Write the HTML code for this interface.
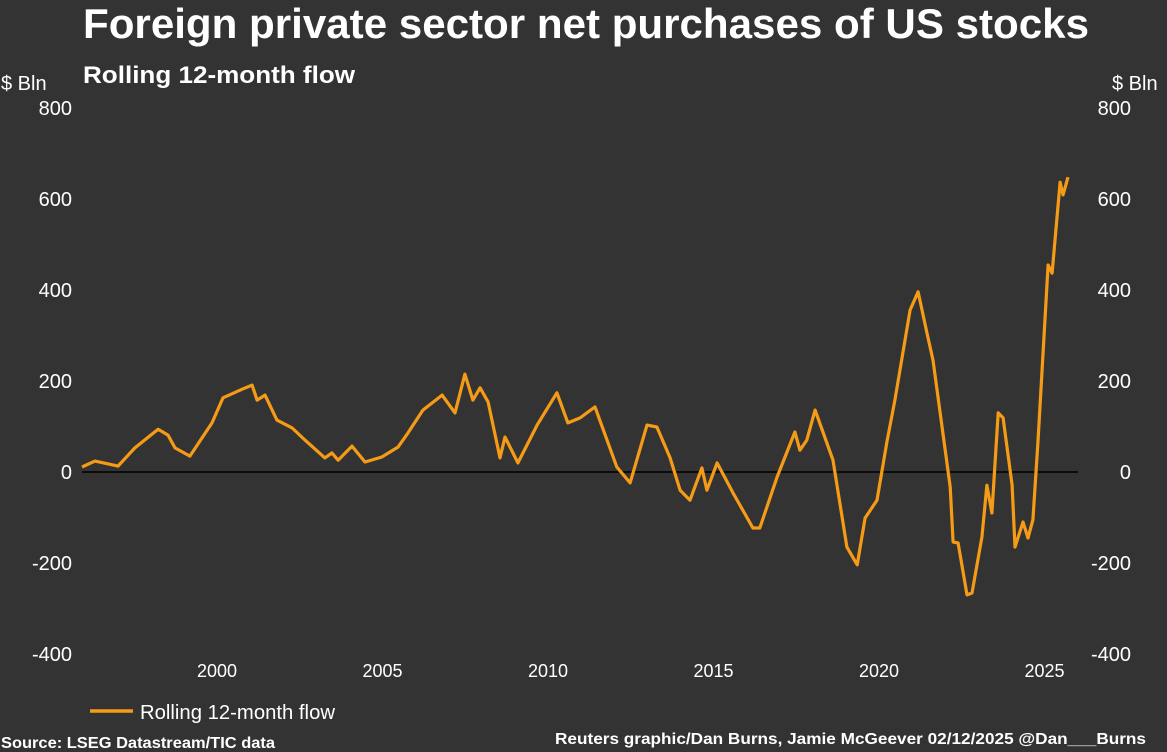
<!DOCTYPE html>
<html><head><meta charset="utf-8"><style>
html,body{margin:0;padding:0;background:#333333;}
svg{display:block;}
</style></head><body>
<svg id="chart" width="1167" height="752" xmlns="http://www.w3.org/2000/svg" font-family="Liberation Sans, sans-serif">
<rect x="0" y="0" width="1167" height="752" fill="#333333"/>
<text x="586" y="38" text-anchor="middle" font-size="42" font-weight="bold" fill="#ffffff" textLength="1006" lengthAdjust="spacingAndGlyphs">Foreign private sector net purchases of US stocks</text>
<text x="83" y="83" font-size="24" font-weight="bold" fill="#ffffff" textLength="272" lengthAdjust="spacingAndGlyphs">Rolling 12-month flow</text>
<text x="1" y="90" font-size="20" fill="#ffffff">$ Bln</text>
<text x="1112" y="90" font-size="20" fill="#ffffff">$ Bln</text>
<g id="yticks"></g>
<g id="xticks"></g>
<line id="zero" x1="82" x2="1078" stroke="#000000" stroke-width="1.5"/>
<path id="series" fill="none" stroke="#f59b16" stroke-width="3.2" stroke-linejoin="round"/>
<line x1="90" y1="711" x2="133" y2="711" stroke="#f59b16" stroke-width="3.5"/>
<text x="140" y="719" font-size="20" fill="#ffffff" textLength="195" lengthAdjust="spacingAndGlyphs">Rolling 12-month flow</text>
<text x="1" y="748" font-size="16" font-weight="bold" fill="#ffffff" textLength="274" lengthAdjust="spacingAndGlyphs">Source: LSEG Datastream/TIC data</text>
<text x="555" y="744" font-size="16" font-weight="bold" fill="#ffffff" textLength="591" lengthAdjust="spacingAndGlyphs">Reuters graphic/Dan Burns, Jamie McGeever 02/12/2025 @Dan___Burns</text>
</svg>
<script>
const years = [1995.92,1996.31,1997.01,1997.52,1998.22,1998.52,1998.73,1999.18,1999.85,2000.18,2000.76,2001.06,2001.21,2001.45,2001.81,2002.27,2002.66,2003.26,2003.47,2003.66,2004.08,2004.47,2004.98,2005.47,2005.77,2006.22,2006.80,2007.19,2007.49,2007.73,2007.95,2008.19,2008.55,2008.70,2009.09,2009.67,2010.27,2010.60,2010.97,2011.42,2012.08,2012.48,2012.99,2013.29,2013.69,2013.99,2014.29,2014.65,2014.80,2015.11,2015.59,2016.19,2016.40,2016.92,2017.46,2017.61,2017.82,2018.07,2018.61,2019.03,2019.34,2019.58,2019.94,2020.24,2020.48,2020.94,2021.18,2021.45,2021.63,2022.15,2022.24,2022.39,2022.66,2022.81,2023.11,2023.26,2023.41,2023.60,2023.75,2024.02,2024.11,2024.35,2024.50,2024.65,2024.80,2025.11,2025.23,2025.47,2025.56,2025.71];
const values = [11,24,13,53,94,81,53,35,108,163,182,191,158,169,114,97,70,31,42,26,57,22,33,55,86,136,169,130,215,158,185,154,31,77,20,103,174,108,119,143,11,-24,103,99,31,-40,-62,9,-40,20,-46,-123,-123,-11,88,48,70,136,26,-165,-204,-101,-62,66,158,356,396,305,246,-33,-154,-156,-270,-266,-143,-29,-90,130,119,-29,-165,-110,-145,-105,64,455,437,637,609,648];
const yTicks = [800,600,400,200,0,-200,-400];
const xTicks = [2000,2005,2010,2015,2020,2025];

function xScale(yr){ return 217 + (yr-2000)*33.1; }
function yScale(v){ return 472 - v*0.455; }

const NS = "http://www.w3.org/2000/svg";
const yg = document.getElementById('yticks');
yTicks.forEach(t => {
  const l = document.createElementNS(NS,'text');
  l.setAttribute('x', 72); l.setAttribute('y', yScale(t)+7);
  l.setAttribute('text-anchor','end'); l.setAttribute('font-size','20'); l.setAttribute('fill','#ffffff');
  l.textContent = t;
  
  
  yg.appendChild(l);
  const r = document.createElementNS(NS,'text');
  r.setAttribute('x', 1131); r.setAttribute('y', yScale(t)+7);
  r.setAttribute('text-anchor','end'); r.setAttribute('font-size','20'); r.setAttribute('fill','#ffffff');
  r.textContent = t;
  
  
  yg.appendChild(r);
});
const xg = document.getElementById('xticks');
xTicks.forEach(t => {
  const l = document.createElementNS(NS,'text');
  l.setAttribute('x', xScale(t)); l.setAttribute('y', 677);
  l.setAttribute('text-anchor','middle'); l.setAttribute('font-size','18'); l.setAttribute('fill','#ffffff');
  l.textContent = t;
  
  
  xg.appendChild(l);
});
const z = document.getElementById('zero');
z.setAttribute('y1', yScale(0)); z.setAttribute('y2', yScale(0));
document.getElementById('series').setAttribute('d',
  years.map((y,i)=>(i?'L':'M')+xScale(y).toFixed(1)+','+yScale(values[i]).toFixed(1)).join(''));
</script>
</body></html>
